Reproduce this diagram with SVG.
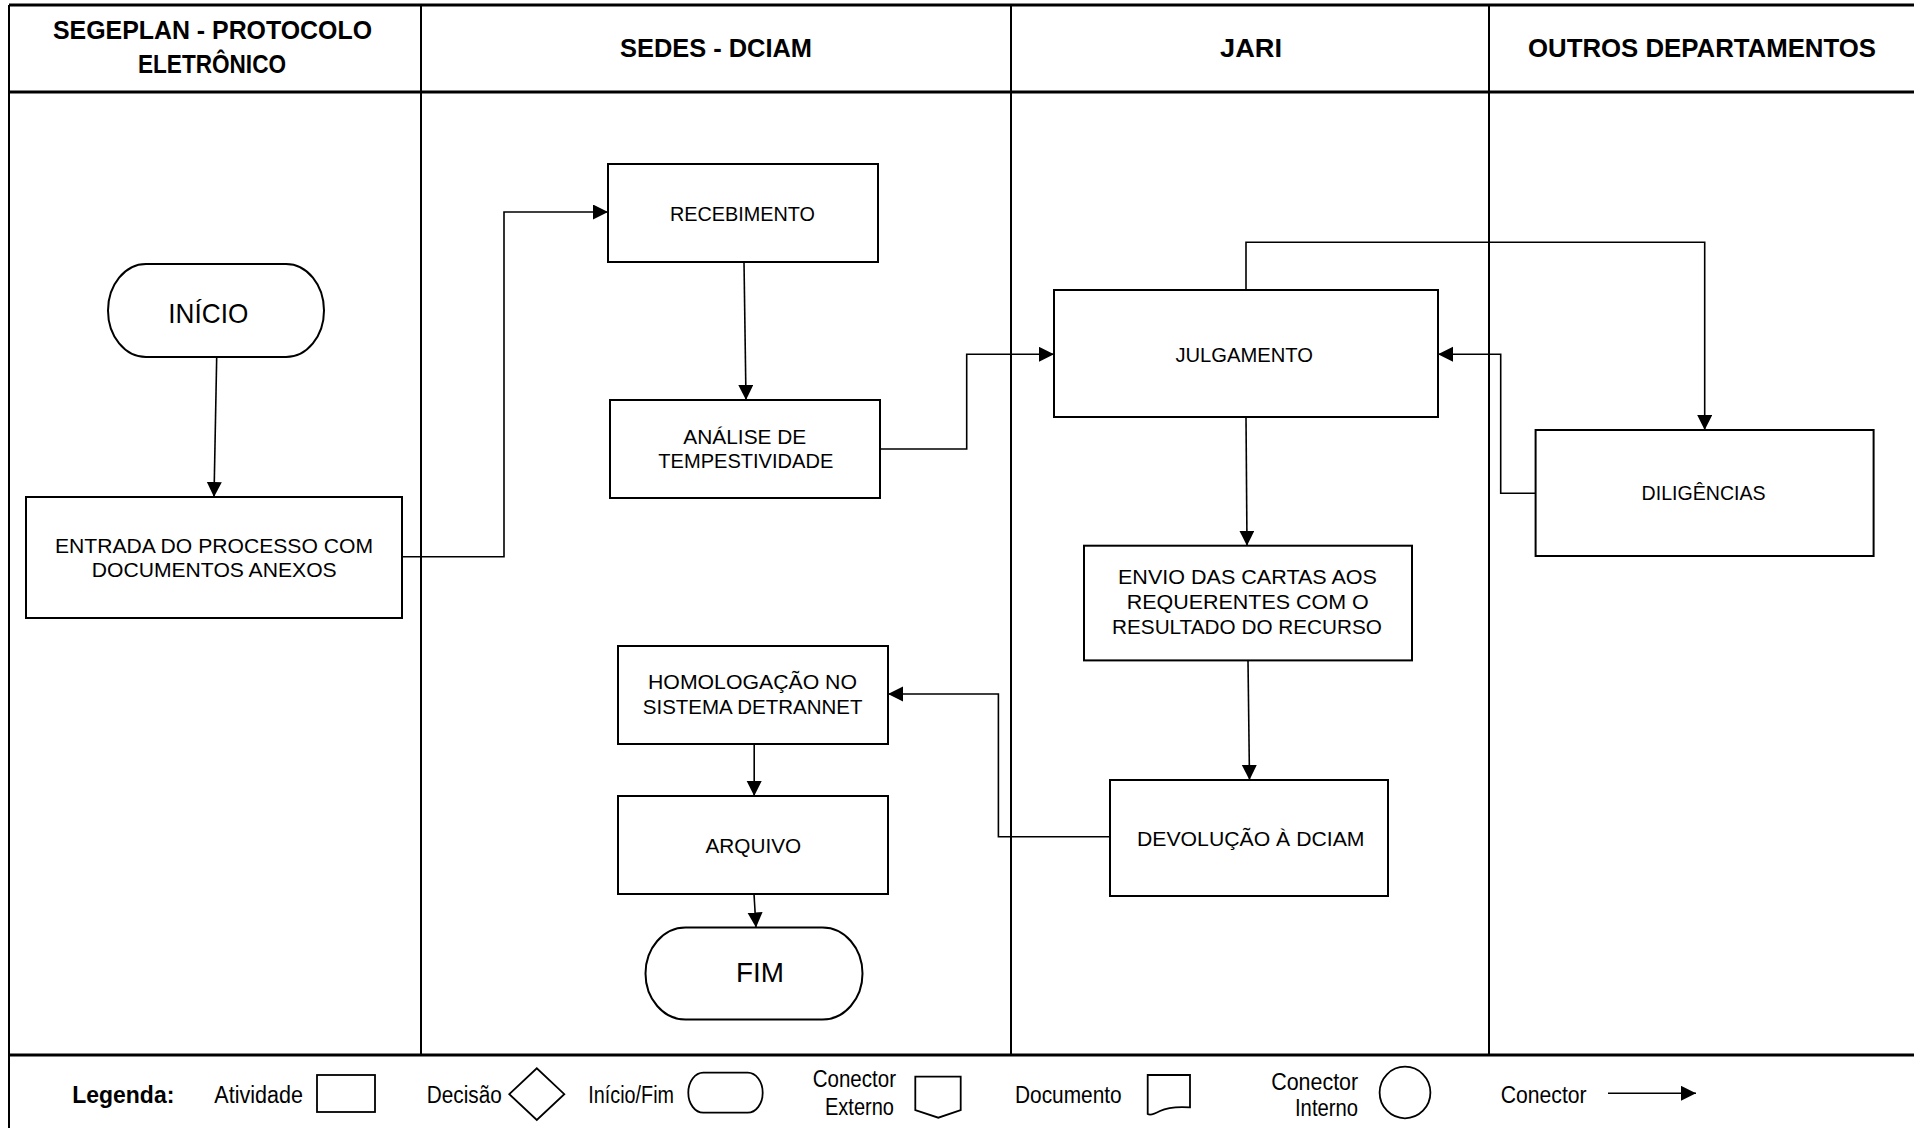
<svg xmlns="http://www.w3.org/2000/svg" width="1914" height="1128" viewBox="0 0 1914 1128">
<defs>
<marker id="arr" markerUnits="userSpaceOnUse" markerWidth="16" markerHeight="16" refX="15" refY="7.5" orient="auto"><path d="M0,0 L15,7.5 L0,15 Z" fill="#000"/></marker>
</defs>
<style>
.box{fill:#fff;stroke:#000;stroke-width:2}
.lane{stroke:#000;stroke-width:2;fill:none}
.frame{stroke:#000;stroke-width:3.2;fill:none}
.con{fill:none;stroke:#000;stroke-width:1.6}
.t{font-family:"Liberation Sans",Arial,sans-serif;font-size:21px;fill:#000}
.big{font-size:28px}
.h{font-family:"Liberation Sans",Arial,sans-serif;font-size:25px;font-weight:bold;fill:#000}
.lg{font-family:"Liberation Sans",Arial,sans-serif;font-size:23px;fill:#000}
.lgb{font-weight:bold}
.sym{fill:#fff;stroke:#000;stroke-width:1.8}
</style>
<rect width="1914" height="1128" fill="#fff"/>

<g id="frame">
  <path class="frame" d="M9,5 H1914 M9,92 H1914 M9,1055 H1914"/>
  <path class="lane" d="M9,5 V1128 M421,5 V1055 M1011,5 V1055 M1489,5 V1055"/>
  <text class="h" x="53" y="39" textLength="319" lengthAdjust="spacingAndGlyphs">SEGEPLAN - PROTOCOLO</text>
  <text class="h" x="138" y="73" textLength="148" lengthAdjust="spacingAndGlyphs">ELETRÔNICO</text>
  <text class="h" x="620" y="57" textLength="192" lengthAdjust="spacingAndGlyphs">SEDES - DCIAM</text>
  <text class="h" x="1220" y="57" textLength="62" lengthAdjust="spacingAndGlyphs">JARI</text>
  <text class="h" x="1528" y="57" textLength="348" lengthAdjust="spacingAndGlyphs">OUTROS DEPARTAMENTOS</text>
</g>

<g id="connectors">
  <path class="con" marker-end="url(#arr)" d="M216.7,357 L214,497"/>
  <path class="con" marker-end="url(#arr)" d="M402,556.7 H504 V212 H608"/>
  <path class="con" marker-end="url(#arr)" d="M744,262 L746,400"/>
  <path class="con" marker-end="url(#arr)" d="M880,449 H966.7 V354.3 H1054"/>
  <path class="con" marker-end="url(#arr)" d="M1246,290 V242.3 H1704.7 V430"/>
  <path class="con" marker-end="url(#arr)" d="M1535.6,493.3 H1500.7 V354.3 H1438"/>
  <path class="con" marker-end="url(#arr)" d="M1246,417 L1247,545.7"/>
  <path class="con" marker-end="url(#arr)" d="M1248,660.4 L1249.5,780"/>
  <path class="con" marker-end="url(#arr)" d="M1110,836.7 H998.4 V694 H888"/>
  <path class="con" marker-end="url(#arr)" d="M754.2,744 V796"/>
  <path class="con" marker-end="url(#arr)" d="M754,894 L756,927.5"/>
</g>

<g id="inicio">
  <rect class="box" x="108" y="264" width="216" height="93" rx="38" ry="46.5"/>
  <text class="t big" x="168.3" y="323.3" textLength="80" lengthAdjust="spacingAndGlyphs">INÍCIO</text>
</g>
<g id="entrada">
  <rect class="box" x="26" y="497" width="376" height="121"/>
  <text class="t" x="55" y="553.3" textLength="318" lengthAdjust="spacingAndGlyphs">ENTRADA DO PROCESSO COM</text>
  <text class="t" x="91.7" y="576.7" textLength="245" lengthAdjust="spacingAndGlyphs">DOCUMENTOS ANEXOS</text>
</g>
<g id="recebimento">
  <rect class="box" x="608" y="164" width="270" height="98"/>
  <text class="t" x="670" y="221" textLength="145" lengthAdjust="spacingAndGlyphs">RECEBIMENTO</text>
</g>
<g id="analise">
  <rect class="box" x="610" y="400" width="270" height="98"/>
  <text class="t" x="683.3" y="444" textLength="123" lengthAdjust="spacingAndGlyphs">ANÁLISE DE</text>
  <text class="t" x="658.3" y="467.7" textLength="175" lengthAdjust="spacingAndGlyphs">TEMPESTIVIDADE</text>
</g>
<g id="julgamento">
  <rect class="box" x="1054" y="290" width="384" height="127"/>
  <text class="t" x="1175.4" y="361.7" textLength="137.6" lengthAdjust="spacingAndGlyphs">JULGAMENTO</text>
</g>
<g id="diligencias">
  <rect class="box" x="1535.6" y="430" width="338" height="126"/>
  <text class="t" x="1641.6" y="500" textLength="124" lengthAdjust="spacingAndGlyphs">DILIGÊNCIAS</text>
</g>
<g id="envio">
  <rect class="box" x="1084" y="545.7" width="328" height="114.7"/>
  <text class="t" x="1118" y="584" textLength="259" lengthAdjust="spacingAndGlyphs">ENVIO DAS CARTAS AOS</text>
  <text class="t" x="1126.7" y="609" textLength="242" lengthAdjust="spacingAndGlyphs">REQUERENTES COM O</text>
  <text class="t" x="1112" y="634" textLength="270" lengthAdjust="spacingAndGlyphs">RESULTADO DO RECURSO</text>
</g>
<g id="devolucao">
  <rect class="box" x="1110" y="780" width="278" height="116"/>
  <text class="t" x="1137" y="846" textLength="227.5" lengthAdjust="spacingAndGlyphs">DEVOLUÇÃO À DCIAM</text>
</g>
<g id="homologacao">
  <rect class="box" x="618" y="646" width="270" height="98"/>
  <text class="t" x="648" y="689.3" textLength="209" lengthAdjust="spacingAndGlyphs">HOMOLOGAÇÃO NO</text>
  <text class="t" x="642.8" y="714.3" textLength="219.6" lengthAdjust="spacingAndGlyphs">SISTEMA DETRANNET</text>
</g>
<g id="arquivo">
  <rect class="box" x="618" y="796" width="270" height="98"/>
  <text class="t" x="705.5" y="852.7" textLength="95.7" lengthAdjust="spacingAndGlyphs">ARQUIVO</text>
</g>
<g id="fim">
  <rect class="box" x="645.5" y="927.5" width="217" height="92" rx="40" ry="46"/>
  <text class="t big" x="736" y="981.7" textLength="48" lengthAdjust="spacingAndGlyphs">FIM</text>
</g>

<g id="legend">
  <text class="lg lgb" x="72.3" y="1103.3" textLength="102" lengthAdjust="spacingAndGlyphs">Legenda:</text>
  <text class="lg" x="214.3" y="1103.3" textLength="88.7" lengthAdjust="spacingAndGlyphs">Atividade</text>
  <rect class="sym" x="317" y="1075" width="58" height="37"/>
  <text class="lg" x="426.8" y="1103.3" textLength="75" lengthAdjust="spacingAndGlyphs">Decisão</text>
  <path class="sym" d="M509.3,1094.2 L536.8,1068.3 L564.3,1094.2 L536.8,1120 Z"/>
  <text class="lg" x="588.3" y="1103.3" textLength="85.7" lengthAdjust="spacingAndGlyphs">Início/Fim</text>
  <rect class="sym" x="688.3" y="1072.7" width="74.4" height="40" rx="15" ry="20"/>
  <text class="lg" x="812.7" y="1087.3" textLength="83.3" lengthAdjust="spacingAndGlyphs">Conector</text>
  <text class="lg" x="825" y="1115" textLength="69" lengthAdjust="spacingAndGlyphs">Externo</text>
  <path class="sym" d="M915.3,1076.7 H960.7 V1110 L938.3,1117.7 L915.3,1110 Z"/>
  <text class="lg" x="1015" y="1103.3" textLength="106.7" lengthAdjust="spacingAndGlyphs">Documento</text>
  <path class="sym" d="M1147.7,1075 H1190 V1107.3 Q1170,1106 1160,1111 Q1151,1116 1147.7,1114 Z"/>
  <text class="lg" x="1271.2" y="1090" textLength="87" lengthAdjust="spacingAndGlyphs">Conector</text>
  <text class="lg" x="1295" y="1116" textLength="63" lengthAdjust="spacingAndGlyphs">Interno</text>
  <ellipse class="sym" cx="1405" cy="1092.5" rx="25.4" ry="25.8"/>
  <text class="lg" x="1500.8" y="1103.3" textLength="85.8" lengthAdjust="spacingAndGlyphs">Conector</text>
  <path class="con" marker-end="url(#arr)" d="M1608,1093.3 H1696"/>
</g>
</svg>
